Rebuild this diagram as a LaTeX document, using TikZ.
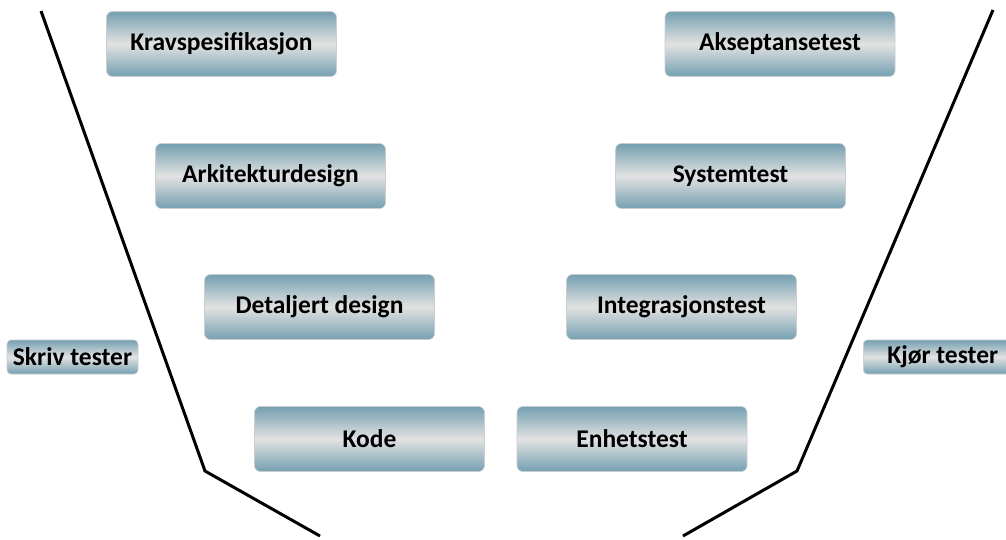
\documentclass[tikz,border=0pt]{standalone}
\usepackage{fontspec}
\setmainfont{Carlito}
\definecolor{steel}{HTML}{75A0B1}
\definecolor{mist}{HTML}{E2E2E2}
\definecolor{rim}{HTML}{C9CDD0}
\begin{document}
\begin{tikzpicture}[x=1pt,y=-1pt,
  phase/.style={rounded corners=6pt, draw=rim, line width=0.6pt,
    top color=steel, bottom color=steel, middle color=mist,
    minimum width=230pt, minimum height=65pt, inner sep=0pt,
    font=\fontsize{25.5}{28}\selectfont\bfseries},
  side/.style={phase, minimum width=131pt, minimum height=34pt, rounded corners=4pt},
  vline/.style={line width=3pt, line join=miter}]
\useasboundingbox (0,0) rectangle (1006,539);
\clip (0,0) rectangle (1006,539);

% development side
\node[phase] (krav) at (221.5,44) {Kravspesifikasjon};
\node[phase] (ark)  at (270.5,176) {Arkitekturdesign};
\node[phase] (det)  at (319.5,307) {Detaljert design};
\node[phase] (kode) at (369.5,439) {Kode};

% test side
\node[phase] (aks) at (780,44) {Akseptansetest};
\node[phase] (sys) at (730.5,176) {Systemtest};
\node[phase] (int) at (681.5,307) {Integrasjonstest};
\node[phase] (enh) at (632,439) {Enhetstest};

% side labels
\node[side] (skriv) at (72.5,357) {Skriv tester};
\node[side, minimum width=0pt, inner xsep=24pt, anchor=west] (kjor) at (863,357) {Kjør tester};

% the V outline
\coordinate (lt) at (41,11);
\coordinate (lk) at (205,471);
\coordinate (lb) at (320,536);
\coordinate (rt) at (993,10);
\coordinate (rk) at (797,471);
\coordinate (rb) at (683,536);
\draw[vline] (lt) -- (lk) -- (lb);
\draw[vline] (rt) -- (rk) -- (rb);
\end{tikzpicture}
\end{document}
